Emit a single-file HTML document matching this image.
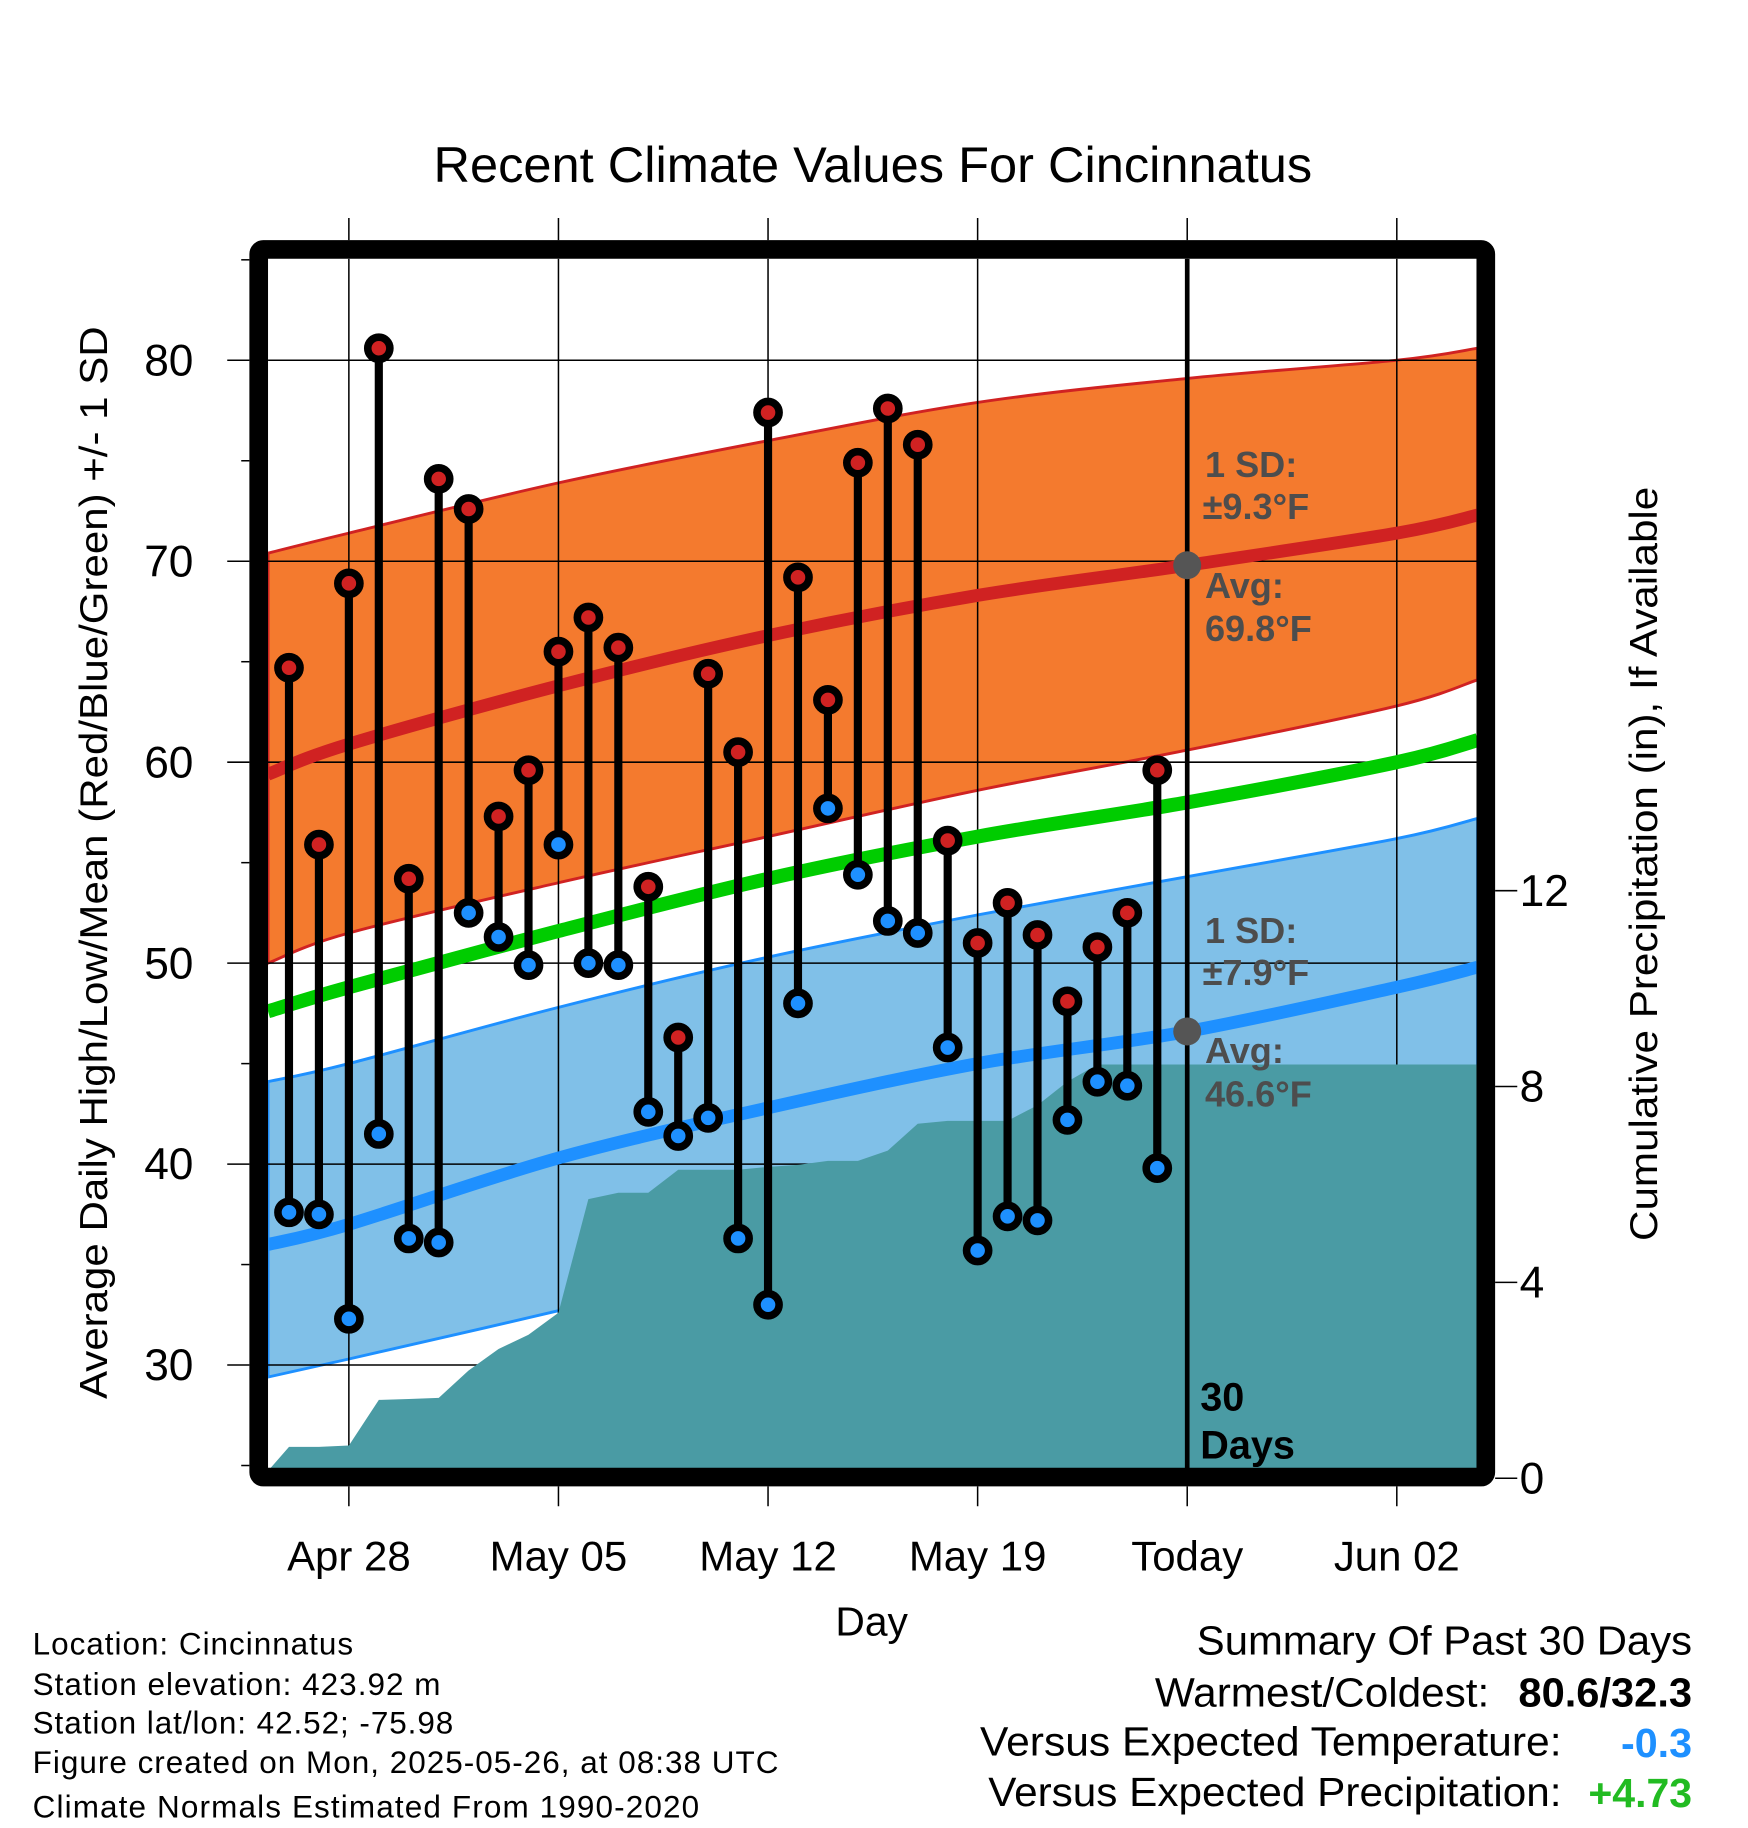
<!DOCTYPE html>
<html><head><meta charset="utf-8">
<style>
html,body{margin:0;padding:0;background:#fff;}
svg{display:block;}
text{font-family:"Liberation Sans",sans-serif;}
</style></head>
<body>
<svg id="chart" width="1748" height="1828" viewBox="0 0 1500 1568" preserveAspectRatio="none" xmlns="http://www.w3.org/2000/svg">
<g id="bands"></g>
<g id="grid"></g>
<g id="precip"></g>
<g id="normals"></g>
<g id="marks"></g>
<g id="frame"></g>
<g id="labels"></g>
</svg>
<script>
// ---- data ----
const dayLabels = ["Apr 26","Apr 27","Apr 28","Apr 29","Apr 30","May 01","May 02","May 03","May 04","May 05","May 06","May 07","May 08","May 09","May 10","May 11","May 12","May 13","May 14","May 15","May 16","May 17","May 18","May 19","May 20","May 21","May 22","May 23","May 24","May 25"];
const highs = [64.7,55.9,68.9,80.6,54.2,74.1,72.6,57.3,59.6,65.5,67.2,65.7,53.8,46.3,64.4,60.5,77.4,69.2,63.1,74.9,77.6,75.8,56.1,51.0,53.0,51.4,48.1,50.8,52.5,59.6];
const lows = [37.6,37.5,32.3,41.5,36.3,36.1,52.5,51.3,49.9,55.9,50.0,49.9,42.6,41.4,42.3,36.3,33.0,48.0,57.7,54.4,52.1,51.5,45.8,35.7,37.4,37.2,42.2,44.1,43.9,39.8];
const precipCum = [0.64,0.64,0.67,1.6,1.62,1.64,2.2,2.64,2.93,3.38,5.7,5.83,5.83,6.3,6.3,6.3,6.36,6.4,6.48,6.48,6.69,7.24,7.3,7.3,7.3,7.62,8.1,8.45,8.45,8.45];
// normals at day offsets (0 = Apr 26)
const normDays = [-0.7,2,9,16,23,30,37,39.7];
const highAvg = [59.4,60.9,63.8,66.3,68.3,69.8,71.4,72.3];
const highUpper = [70.4,71.4,73.9,76.0,77.9,79.1,80.0,80.6];
const highLower = [50.0,51.5,54.0,56.3,58.6,60.6,62.8,64.1];
const meanAvg = [47.6,48.8,51.6,54.2,56.3,58.0,60.0,61.1];
const lowAvg = [36.0,37.0,40.3,42.8,45.0,46.6,48.8,49.8];
const lowUpper = [44.1,45.0,47.8,50.3,52.4,54.3,56.2,57.2];
const lowLower = [29.4,30.3,32.7,35.2,37.4,39.3,41.0,41.9];
const xTickDays = [2,9,16,23,30,37];
const xTickLabels = ["Apr 28","May 05","May 12","May 19","Today","Jun 02"];
const yTicks = [30,40,50,60,70,80];
const yMinor = [25,35,45,55,65,75,85];
const pTicks = [0,4,8,12];

// ---- axes ----
const X0=230,X1=1268,Y0=222,Y1=1260;
const DMIN=-0.7,DMAX=39.7,TMIN=24.83,TMAX=85.05;
const xs=d=>X0+(d-DMIN)/(DMAX-DMIN)*(X1-X0);
const ys=t=>Y1-(t-TMIN)/(TMAX-TMIN)*(Y1-Y0);
const ps=p=>1268-p*42;
const NS="http://www.w3.org/2000/svg";
function mk(tag,attrs,parent,txt){const e=document.createElementNS(NS,tag);for(const k in attrs)e.setAttribute(k,attrs[k]);if(txt!==undefined)e.textContent=txt;document.getElementById(parent).appendChild(e);return e;}
// smooth curve through points (Catmull-Rom -> Bezier)
function pts(arr){return arr.map((v,i)=>[xs(normDays[i]),ys(v)]);}
function smooth(p,start){let d=start?("M"+p[0][0].toFixed(1)+","+p[0][1].toFixed(1)):("L"+p[0][0].toFixed(1)+","+p[0][1].toFixed(1));
 for(let i=0;i<p.length-1;i++){const a=p[Math.max(i-1,0)],b=p[i],c=p[i+1],e2=p[Math.min(i+2,p.length-1)];
  const c1=[b[0]+(c[0]-a[0])/6,b[1]+(c[1]-a[1])/6],c2=[c[0]-(e2[0]-b[0])/6,c[1]-(e2[1]-b[1])/6];
  d+="C"+c1.map(v=>v.toFixed(1))+" "+c2.map(v=>v.toFixed(1))+" "+c.map(v=>v.toFixed(1));}
 return d;}
function line(arr){return smooth(pts(arr),true);}
function band(up,lo){return smooth(pts(up),true)+smooth(pts(lo).reverse(),false)+"Z";}

const defs=document.createElementNS(NS,"defs");defs.innerHTML='<clipPath id="pc"><rect x="230" y="222" width="1038" height="1038"/></clipPath>';document.getElementById("chart").prepend(defs);
["bands","grid","precip","normals","marks"].forEach(id=>document.getElementById(id).setAttribute("clip-path","url(#pc)"));

let e;
e=mk("path",{d:band(highUpper,highLower),fill:"#f47a2e",stroke:"#d02222","stroke-width":2.5},"bands");


e=mk("path",{d:band(lowUpper,lowLower),fill:"#80c0e8",stroke:"#1e90ff","stroke-width":2.5},"bands");



xTickDays.forEach(d=>{e=mk("line",{x1:xs(d),x2:xs(d),y1:Y0,y2:Y1,stroke:"#000","stroke-width":1.3},"grid");

});
yTicks.forEach(t=>{e=mk("line",{x1:X0,x2:X1,y1:ys(t),y2:ys(t),stroke:"#000","stroke-width":1.3},"grid");

});

let pd="M"+X0+","+Y1+"L"+X0+","+ps(0.15);
precipCum.forEach((p,i)=>{pd+="L"+xs(i).toFixed(1)+","+ps(p).toFixed(1);});
pd+="L"+X1+","+ps(precipCum[precipCum.length-1]).toFixed(1)+"L"+X1+","+Y1+"Z";
e=mk("path",{d:pd,fill:"#4a9ba4"},"precip");



e=mk("path",{d:line(highAvg),fill:"none",stroke:"#d02222","stroke-width":11},"normals");


e=mk("path",{d:line(meanAvg),fill:"none",stroke:"#00cc00","stroke-width":12},"normals");


e=mk("path",{d:line(lowAvg),fill:"none",stroke:"#1e90ff","stroke-width":11},"normals");



highs.forEach((h,i)=>{const x=xs(i);
 e=mk("line",{x1:x,x2:x,y1:ys(h),y2:ys(lows[i]),stroke:"#000","stroke-width":7},"marks");
 
 
 e=mk("circle",{cx:x,cy:ys(h),r:9.5,fill:"#d02222",stroke:"#000","stroke-width":6.5},"marks");
 
 
 e=mk("circle",{cx:x,cy:ys(lows[i]),r:9.5,fill:"#1e90ff",stroke:"#000","stroke-width":6.5},"marks");
 
 
});

const tx=xs(30);
e=mk("line",{x1:tx,x2:tx,y1:Y0,y2:Y1,stroke:"#000","stroke-width":4},"marks");


e=mk("circle",{cx:tx,cy:ys(highAvg[5]),r:12,fill:"#555"},"marks");


e=mk("circle",{cx:tx,cy:ys(lowAvg[5]),r:12,fill:"#555"},"marks");



e=mk("rect",{x:222,y:214,width:1053,height:1053,rx:4,fill:"none",stroke:"#000","stroke-width":16},"frame");


xTickDays.forEach(d=>{mk("line",{x1:xs(d),x2:xs(d),y1:187,y2:206,stroke:"#000","stroke-width":1.3},"frame");
 mk("line",{x1:xs(d),x2:xs(d),y1:1275,y2:1292,stroke:"#000","stroke-width":1.3},"frame");});
yTicks.forEach(t=>mk("line",{x1:195,x2:214,y1:ys(t),y2:ys(t),stroke:"#000","stroke-width":1.3},"frame"));
yMinor.forEach(t=>mk("line",{x1:207,x2:214,y1:ys(t),y2:ys(t),stroke:"#000","stroke-width":1.3},"frame"));
pTicks.forEach(p=>mk("line",{x1:1283,x2:1302,y1:ps(p),y2:ps(p),stroke:"#000","stroke-width":1.3},"frame"));

yTicks.forEach(t=>{e=mk("text",{x:166,y:ys(t)+13,"font-size":38,"text-anchor":"end"},"labels",String(t));
 
 });
pTicks.forEach(p=>{e=mk("text",{x:1304,y:ps(p)+13,"font-size":38},"labels",String(p));
 
 });
xTickLabels.forEach((l,i)=>{e=mk("text",{x:xs(xTickDays[i]),y:1347,"font-size":36,"text-anchor":"middle"},"labels",l);
 
 });
</script>
<script>
(function(){
const L=document.getElementById("labels");
L.insertAdjacentHTML("beforeend",`
<text x="372" y="156" font-size="43" textLength="754" lengthAdjust="spacingAndGlyphs">Recent Climate Values For Cincinnatus</text>
<text transform="translate(92,740) rotate(-90)" font-size="33" text-anchor="middle" textLength="920" lengthAdjust="spacingAndGlyphs">Average Daily High/Low/Mean (Red/Blue/Green) +/- 1 SD</text>
<text transform="translate(1422,741) rotate(-90)" font-size="33" text-anchor="middle" textLength="647" lengthAdjust="spacingAndGlyphs">Cumulative Precipitation (in), If Available</text>
<text x="748" y="1403" font-size="35" text-anchor="middle">Day</text>
<g font-size="31" font-weight="bold" fill="#4d4d4d">
<text x="1034" y="409">1 SD:</text><text x="1032" y="445">±9.3°F</text>
<text x="1034" y="513">Avg:</text><text x="1034" y="550">69.8°F</text></g>
<g font-size="31" font-weight="bold" fill="#4d4d4d">
<text x="1034" y="809">1 SD:</text><text x="1032" y="845">±7.9°F</text>
<text x="1034" y="912">Avg:</text><text x="1034" y="949">46.6°F</text></g>
<g font-size="34" font-weight="bold" fill="#000">
<text x="1030" y="1210">30</text><text x="1030" y="1251">Days</text></g>
<g font-size="27" lengthAdjust="spacingAndGlyphs">
<text x="28" y="1419" textLength="275">Location: Cincinnatus</text>
<text x="28" y="1454" textLength="350">Station elevation: 423.92 m</text>
<text x="28" y="1487" textLength="361">Station lat/lon: 42.52; -75.98</text>
<text x="28" y="1521" textLength="640">Figure created on Mon, 2025-05-26, at 08:38 UTC</text>
<text x="28" y="1559" textLength="572">Climate Normals Estimated From 1990-2020</text></g>
<g font-size="35">
<text x="1027" y="1419" textLength="425" lengthAdjust="spacingAndGlyphs">Summary Of Past 30 Days</text>
<text x="991" y="1464" textLength="287" lengthAdjust="spacingAndGlyphs">Warmest/Coldest:</text>
<text x="1303" y="1464" font-weight="bold" textLength="149" lengthAdjust="spacingAndGlyphs">80.6/32.3</text>
<text x="841" y="1506" textLength="499" lengthAdjust="spacingAndGlyphs">Versus Expected Temperature:</text>
<text x="1391" y="1507" font-weight="bold" fill="#1e90ff" textLength="61" lengthAdjust="spacingAndGlyphs">-0.3</text>
<text x="848" y="1549" textLength="492" lengthAdjust="spacingAndGlyphs">Versus Expected Precipitation:</text>
<text x="1363" y="1550" font-weight="bold" fill="#22bb22" textLength="89" lengthAdjust="spacingAndGlyphs">+4.73</text></g>`);
})();
</script>
</body></html>
